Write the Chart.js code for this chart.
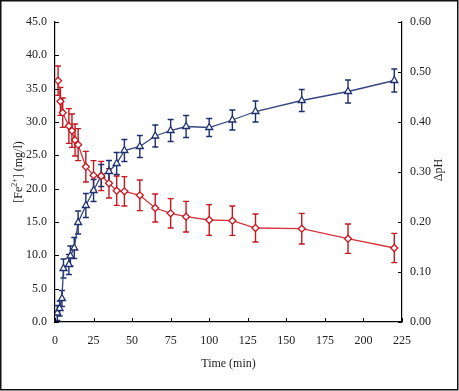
<!doctype html>
<html>

<head>
    <meta charset="utf-8">
    <title>Fe2+ e pH</title>
    <script src="https://cdn.jsdelivr.net/npm/chart.js"></script>
    <style>
        body {
            margin: 0;
            background: #fff;
        }

        .quadro {
            position: relative;
            width: 459px;
            height: 391px;
        }
    </style>
</head>

<body>
    <div class="quadro">
        <canvas id="grafico"></canvas>
    </div>

    <script>
        // Fe2+ (eixo esquerdo, mg/l)
        var tempoFe = [2, 3.5, 5, 9, 11, 13, 15, 20, 25, 30, 35, 40, 45, 55, 65, 75, 85, 100, 115, 130, 160, 190, 220];
        var ferro = [36.2, 33.1, 31.4, 29.4, 28.7, 27.3, 26.6, 23.3, 22.0, 21.9, 20.8, 19.7, 19.6, 19.0, 17.1, 16.3, 15.8, 15.3, 15.2, 14.1, 14.0, 12.5, 11.1];
        var erroFe = [2.2, 2.1, 2.2, 2.6, 2.5, 2.4, 2.4, 2.3, 2.2, 2.2, 2.2, 2.2, 2.2, 2.3, 2.1, 2.2, 2.3, 2.3, 2.2, 2.1, 2.3, 2.2, 2.2];

        // delta pH (eixo direito)
        var tempoPh = [1.5, 3, 4.5, 5.5, 9, 10, 12.5, 15, 20, 25, 30, 35, 40, 45, 55, 65, 75, 85, 100, 115, 130, 160, 190, 220];
        var deltaPh = [0.018, 0.027, 0.047, 0.107, 0.115, 0.132, 0.148, 0.199, 0.233, 0.263, 0.293, 0.301, 0.317, 0.343, 0.351, 0.372, 0.383, 0.391, 0.389, 0.404, 0.421, 0.443, 0.461, 0.483];
        var erroPh = [0.015, 0.015, 0.016, 0.019, 0.02, 0.02, 0.021, 0.023, 0.024, 0.022, 0.022, 0.022, 0.022, 0.022, 0.022, 0.022, 0.022, 0.022, 0.018, 0.02, 0.021, 0.022, 0.023, 0.023];

        var ticksTempo = [0, 25, 50, 75, 100, 125, 150, 175, 200, 225];
        var ticksFe = [0, 5, 10, 15, 20, 25, 30, 35, 40, 45];
        var ticksPh = [0, 0.1, 0.2, 0.3, 0.4, 0.5, 0.6];

        var vermelho = '#c8161f';
        var azul = '#1d2f6f';
        var fonte = "'Liberation Serif', 'Times New Roman', serif";

        function pontos(xs, ys) {
            return xs.map(function (x, i) { return { x: x, y: ys[i] }; });
        }

        // barras de erro desenhadas pelas escalas do grafico
        var barrasErro = {
            id: 'barrasErro',
            beforeDatasetsDraw: function (chart) {
                var ctx = chart.ctx;
                chart.data.datasets.forEach(function (ds, d) {
                    var meta = chart.getDatasetMeta(d);
                    var escX = chart.scales[meta.xAxisID];
                    var escY = chart.scales[meta.yAxisID];
                    ctx.save();
                    ctx.strokeStyle = ds.corErro;
                    ctx.lineWidth = 1.4;
                    ds.data.forEach(function (p, i) {
                        var e = ds.erros[i];
                        var px = escX.getPixelForValue(p.x);
                        var topo = escY.getPixelForValue(p.y + e);
                        var base = escY.getPixelForValue(p.y - e);
                        ctx.beginPath();
                        ctx.moveTo(px, topo);
                        ctx.lineTo(px, base);
                        ctx.moveTo(px - 3, topo);
                        ctx.lineTo(px + 3, topo);
                        ctx.moveTo(px - 3, base);
                        ctx.lineTo(px + 3, base);
                        ctx.stroke();
                    });
                    ctx.restore();
                });
            }
        };

        // marcas dos eixos para dentro, titulos e moldura
        var extras = {
            id: 'extras',
            afterDraw: function (chart) {
                var ctx = chart.ctx;
                var area = chart.chartArea;
                var sx = chart.scales.x, sy = chart.scales.y, sy1 = chart.scales.y1;
                ctx.save();
                ctx.strokeStyle = '#000';
                ctx.lineWidth = 1;
                ctx.beginPath();
                sy.ticks.forEach(function (t) {
                    var y = Math.round(sy.getPixelForValue(t.value)) + 0.5;
                    ctx.moveTo(area.left, y);
                    ctx.lineTo(area.left + 4, y);
                });
                sy1.ticks.forEach(function (t) {
                    var y = Math.round(sy1.getPixelForValue(t.value)) + 0.5;
                    ctx.moveTo(area.right, y);
                    ctx.lineTo(area.right - 4, y);
                });
                sx.ticks.forEach(function (t) {
                    var x = Math.round(sx.getPixelForValue(t.value)) + 0.5;
                    ctx.moveTo(x, area.bottom);
                    ctx.lineTo(x, area.bottom - 4);
                });
                ctx.stroke();

                ctx.fillStyle = '#222';
                ctx.textBaseline = 'middle';

                // titulo x
                ctx.font = '12px ' + fonte;
                ctx.textAlign = 'center';
                ctx.fillText('Time (min)', (area.left + area.right) / 2, 364);

                // titulo esquerdo com sobrescrito
                var f1 = '12px ' + fonte, f2 = '8px ' + fonte;
                var partes = [['[Fe', f1, 0], ['2+', f2, -4], ['] (mg/l)', f1, 0]];
                var larg = 0;
                partes.forEach(function (p) { ctx.font = p[1]; larg += ctx.measureText(p[0]).width; });
                ctx.save();
                ctx.translate(19, 172);
                ctx.rotate(-Math.PI / 2);
                ctx.textAlign = 'left';
                var cx = -larg / 2;
                partes.forEach(function (p) {
                    ctx.font = p[1];
                    ctx.fillText(p[0], cx, p[2]);
                    cx += ctx.measureText(p[0]).width;
                });
                ctx.restore();

                // titulo direito
                ctx.save();
                ctx.translate(439, 170);
                ctx.rotate(-Math.PI / 2);
                ctx.textAlign = 'center';
                ctx.font = '12px ' + fonte;
                ctx.fillText('\u0394pH', 0, 0);
                ctx.restore();

                // moldura
                ctx.lineWidth = 1.5;
                ctx.strokeStyle = '#111';
                ctx.strokeRect(0.75, 0.75, 457, 389);
                ctx.restore();
            }
        };

        var grafico = new Chart(document.getElementById('grafico'), {
            type: 'line',
            data: {
                datasets: [{
                    label: '[Fe2+]',
                    data: pontos(tempoFe, ferro),
                    erros: erroFe,
                    corErro: vermelho,
                    yAxisID: 'y',
                    borderColor: '#d2343b',
                    borderWidth: 1.3,
                    tension: 0,
                    pointStyle: 'rectRot',
                    pointRadius: 3.5,
                    pointBorderColor: vermelho,
                    pointBackgroundColor: '#fff',
                    pointBorderWidth: 1.3
                }, {
                    label: 'pH',
                    data: pontos(tempoPh, deltaPh),
                    erros: erroPh,
                    corErro: azul,
                    yAxisID: 'y1',
                    borderColor: '#34467e',
                    borderWidth: 1.3,
                    tension: 0,
                    pointStyle: 'triangle',
                    pointRadius: 4,
                    pointBorderColor: azul,
                    pointBackgroundColor: '#fff',
                    pointBorderWidth: 1.3
                }]
            },
            options: {
                responsive: true,
                maintainAspectRatio: false,
                animation: false,
                layout: { padding: { top: 22, left: 0, right: 0, bottom: 0 } },
                plugins: {
                    legend: { display: false },
                    tooltip: { enabled: false }
                },
                scales: {
                    x: {
                        type: 'linear',
                        min: 0,
                        max: 225,
                        afterBuildTicks: function (s) { s.ticks = ticksTempo.map(function (v) { return { value: v }; }); },
                        afterFit: function (s) { s.height = 69; },
                        grid: { display: false, drawTicks: false },
                        border: { display: true, color: '#000', width: 1.2 },
                        ticks: { padding: 12, color: '#222', font: { family: fonte, size: 12 } }
                    },
                    y: {
                        position: 'left',
                        min: 0,
                        max: 45,
                        afterBuildTicks: function (s) { s.ticks = ticksFe.map(function (v) { return { value: v }; }); },
                        afterFit: function (s) { s.width = 55; },
                        grid: { display: false, drawTicks: false },
                        border: { display: true, color: '#000', width: 1.2 },
                        ticks: {
                            padding: 8, color: '#222', font: { family: fonte, size: 12 },
                            callback: function (v) { return v.toFixed(1); }
                        }
                    },
                    y1: {
                        position: 'right',
                        min: 0,
                        max: 0.6,
                        afterBuildTicks: function (s) { s.ticks = ticksPh.map(function (v) { return { value: v }; }); },
                        afterFit: function (s) { s.width = 57; },
                        grid: { display: false, drawTicks: false },
                        border: { display: true, color: '#000', width: 1.2 },
                        ticks: {
                            padding: 8, color: '#222', font: { family: fonte, size: 12 },
                            callback: function (v) { return v.toFixed(2); }
                        }
                    }
                }
            },
            plugins: [barrasErro, extras]
        });
    </script>
</body>

</html>
